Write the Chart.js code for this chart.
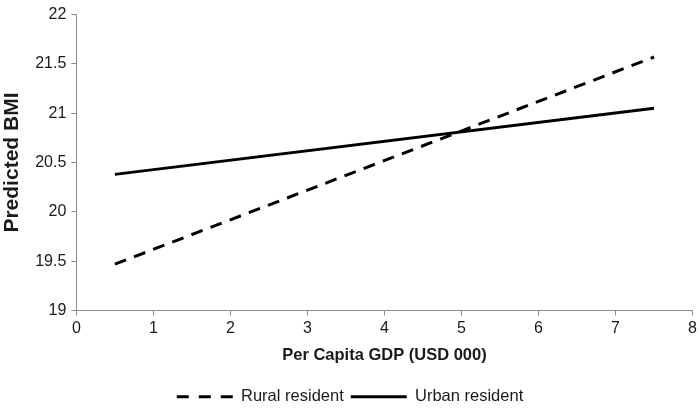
<!DOCTYPE html>
<html>
<head>
<meta charset="utf-8">
<title>Predicted BMI by per capita GDP</title>
<script src="https://cdn.jsdelivr.net/npm/chart.js@4.4.0/dist/chart.umd.min.js"></script>
<style>
  body { margin: 0; background: #ffffff; }
  #wrap { width: 700px; height: 415px; }
</style>
</head>
<body>
<div id="wrap"><canvas id="bmiChart"></canvas></div>
<script>
// Chart values
const gdpPoints = [0.5, 7.5];           // per capita GDP (USD 000)
const ruralBmi = [19.47, 21.57];        // rural resident
const urbanBmi = [20.38, 21.05];        // urban resident
const seriesNames = ["Rural resident", "Urban resident"];

// Turn x/y arrays into point objects for the linear scales
function toPoints(xs, ys) {
  return xs.map((x, i) => ({ x: x, y: ys[i] }));
}

const axisGray = "#8c8c8c";
const textColor = "#1a1a1a";
const fontFamily = "'Liberation Sans', Arial, sans-serif";
const legendDash = [[12, 10], []];

const ctx = document.getElementById("bmiChart").getContext("2d");
new Chart(ctx, {
  type: "line",
  data: {
    datasets: [
      {
        label: seriesNames[0],
        data: toPoints(gdpPoints, ruralBmi),
        borderColor: "#000000",
        backgroundColor: "#000000",
        borderWidth: 3,
        borderDash: [12, 8.5],
        pointRadius: 0,
        pointStyle: "line",
        fill: false
      },
      {
        label: seriesNames[1],
        data: toPoints(gdpPoints, urbanBmi),
        borderColor: "#000000",
        backgroundColor: "#000000",
        borderWidth: 3,
        pointRadius: 0,
        pointStyle: "line",
        fill: false
      }
    ]
  },
  options: {
    responsive: true,
    maintainAspectRatio: false,
    animation: false,
    layout: {
      padding: { left: 0, right: 0, top: -3, bottom: 0 }
    },
    plugins: {
      tooltip: { enabled: false },
      legend: {
        position: "bottom",
        labels: {
          usePointStyle: true,
          pointStyleWidth: 56,
          boxHeight: 12,
          color: textColor,
          padding: 7,
          font: { family: fontFamily, size: 16.5 },
          // point-style legend items don't carry the dataset dash, add it here
          generateLabels: function (chart) {
            const items = Chart.defaults.plugins.legend.labels.generateLabels(chart);
            items.forEach((item, i) => { item.lineDash = legendDash[i]; });
            return items;
          }
        }
      }
    },
    scales: {
      x: {
        type: "linear",
        min: 0,
        max: 8,
        ticks: {
          stepSize: 1,
          color: textColor,
          padding: 3,
          font: { family: fontFamily, size: 16 }
        },
        grid: {
          drawOnChartArea: false,
          drawTicks: true,
          tickLength: 5,
          color: axisGray
        },
        border: { color: axisGray, width: 1 },
        title: {
          display: true,
          text: "Per Capita GDP (USD 000)",
          color: textColor,
          padding: { top: 5, bottom: 16 },
          font: { family: fontFamily, size: 16.5, weight: "bold" }
        }
      },
      y: {
        type: "linear",
        min: 19,
        max: 22,
        ticks: {
          stepSize: 0.5,
          color: textColor,
          padding: 5,
          font: { family: fontFamily, size: 16 },
          callback: (value) => String(value)
        },
        grid: {
          drawOnChartArea: false,
          drawTicks: true,
          tickLength: 5,
          color: axisGray
        },
        border: { color: axisGray, width: 1 },
        title: {
          display: true,
          text: "Predicted BMI",
          color: textColor,
          padding: { top: 0, bottom: 5 },
          font: { family: fontFamily, size: 21, weight: "bold" }
        }
      }
    }
  }
});
</script>
</body>
</html>
